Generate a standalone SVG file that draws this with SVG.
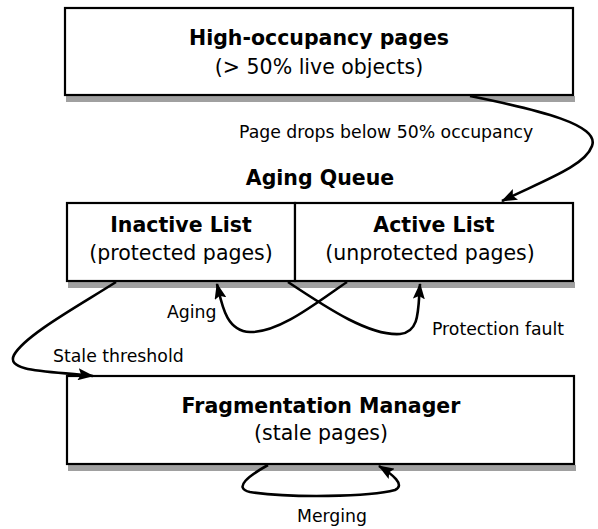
<svg xmlns="http://www.w3.org/2000/svg" width="598" height="529" viewBox="0 0 598 529">
  <style>
    .box { fill: #ffffff; stroke: #000000; stroke-width: 2.2; }
    .shadow { fill: #a0a0a0; }
    .title { font-family: "DejaVu Sans", Verdana, sans-serif; font-size: 20.5px; font-weight: bold; fill: #000; text-anchor: middle; }
    .sub { font-family: "DejaVu Sans", Verdana, sans-serif; font-size: 20.5px; fill: #000; text-anchor: middle; }
    .lbl { font-family: "DejaVu Sans", Verdana, sans-serif; font-size: 17.3px; fill: #000; }
    .conn { fill: none; stroke: #000000; stroke-width: 2.6; marker-end: url(#arrow); }
  </style>
  <defs>
    <marker id="arrow" markerUnits="userSpaceOnUse" markerWidth="16" markerHeight="12" refX="15" refY="6" orient="auto">
      <path d="M0,0 L16,6 L0,12 L3,6 z" fill="#000"/>
    </marker>
  </defs>
  <rect width="598" height="529" fill="#ffffff"/>

  <g id="high-occupancy">
    <rect class="shadow" x="66" y="96" width="509" height="6"/>
    <rect class="box" x="65" y="8" width="508" height="87"/>
    <text class="title" x="319" y="45">High-occupancy pages</text>
    <text class="sub" x="319" y="74">(&gt; 50% live objects)</text>
  </g>

  <g id="aging-queue">
    <text class="title" x="320" y="185">Aging Queue</text>
  </g>

  <g id="inactive-list">
    <rect class="shadow" x="68" y="282" width="228" height="6"/>
    <rect class="box" x="67" y="203" width="228" height="78"/>
    <text class="title" x="181" y="232">Inactive List</text>
    <text class="sub" x="181" y="260">(protected pages)</text>
  </g>

  <g id="active-list">
    <rect class="shadow" x="296" y="282" width="279" height="6"/>
    <rect class="box" x="295" y="203" width="278" height="78"/>
    <text class="title" x="434" y="232">Active List</text>
    <text class="sub" x="430" y="260">(unprotected pages)</text>
  </g>

  <g id="fragmentation-manager">
    <rect class="shadow" x="68" y="465" width="508" height="6"/>
    <rect class="box" x="67" y="376" width="507" height="88"/>
    <text class="title" x="321" y="413">Fragmentation Manager</text>
    <text class="sub" x="321" y="440">(stale pages)</text>
  </g>

  <g id="connectors">
    <path class="conn" d="M470,96 C540,110 600,125 592,146 C585,166 545,180 502,201"/>
    <path class="conn" d="M347,282 C320,300 280,333 250,332 C226,331 222,305 217,284"/>
    <path class="conn" d="M288,282 C330,310 370,336 400,334 C420,332 418,310 420,284"/>
    <path class="conn" d="M116,282 C80,305 25,335 14,355 C5,372 50,371 93,376"/>
    <path class="conn" d="M268,465 C250,475 232,488 250,492 C290,498 370,497 395,490 C406,485 392,474 379,466"/>
    <text class="lbl" x="239" y="138">Page drops below 50% occupancy</text>
    <text class="lbl" x="167" y="318">Aging</text>
    <text class="lbl" x="432" y="335">Protection fault</text>
    <text class="lbl" x="53" y="362">Stale threshold</text>
    <text class="lbl" x="297" y="522">Merging</text>
  </g>
</svg>
